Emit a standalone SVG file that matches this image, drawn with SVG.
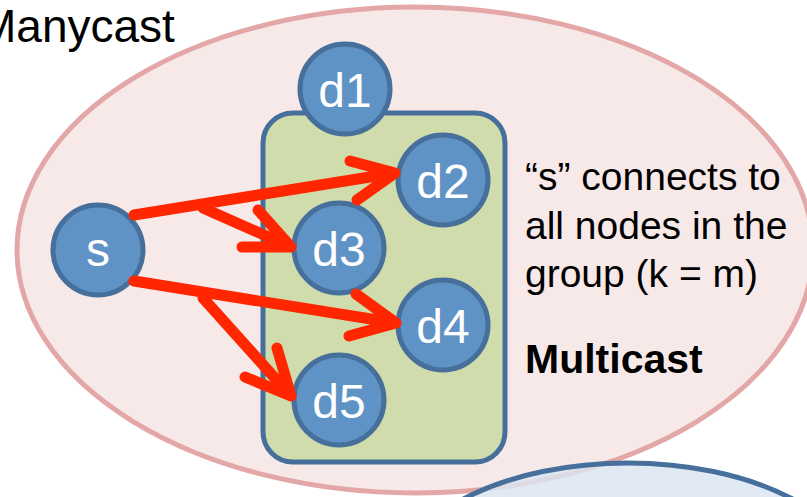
<svg xmlns="http://www.w3.org/2000/svg" width="807" height="497" viewBox="0 0 807 497">
<style>
.node circle{fill:#5f93c6;stroke:#46709b;stroke-width:5}
.node text{fill:#ffffff;font-family:"Liberation Sans",Arial,sans-serif;font-size:48px;text-anchor:middle}
.arrow{fill:none;stroke:#ff2600;stroke-width:11;stroke-linecap:round;stroke-linejoin:round}
.lbl{font-family:"Liberation Sans",Arial,sans-serif;font-size:39px;fill:#000}
</style>
<rect width="807" height="497" fill="#ffffff"/>
<g id="manycast">
<ellipse cx="415" cy="250" rx="398" ry="243" fill="#f8e9e9" stroke="#e2a7a6" stroke-width="5"/>
<text x="-22" y="42" class="lbl" style="font-size:46px">Manycast</text>
</g>
<g id="anycast-region">
<ellipse cx="628" cy="585" rx="232" ry="122" fill="#dbe5f1" fill-opacity="0.82" stroke="#46709b" stroke-width="5"/>
</g>
<g id="group">
<rect x="263" y="113" width="242" height="349" rx="30" ry="30" fill="#d0dcab" stroke="#46709b" stroke-width="5"/>
</g>
<g id="node-d1" class="node"><circle cx="345" cy="89" r="45"/><text x="345" y="107">d1</text></g>
<g id="node-d2" class="node"><circle cx="443" cy="180" r="45"/><text x="443" y="198">d2</text></g>
<g id="node-d3" class="node"><circle cx="339" cy="248" r="45"/><text x="339" y="266">d3</text></g>
<g id="node-d4" class="node"><circle cx="443" cy="325" r="45"/><text x="443" y="343">d4</text></g>
<g id="node-d5" class="node"><circle cx="339" cy="400" r="45"/><text x="339" y="418">d5</text></g>
<g id="node-s" class="node"><circle cx="98" cy="250" r="45"/><text x="98" y="266">s</text></g>
<g id="connectors">
<path class="arrow" d="M134 215 L395 173 M350 161 L395 173 L357 200"/>
<path class="arrow" d="M203 208 L291 247 M258 210 L291 247 L242 247"/>
<path class="arrow" d="M134 281 L396 323 M356 294 L396 323 L349 336"/>
<path class="arrow" d="M203 298 L291 396 M277 348 L291 396 L245 377"/>
</g>
<g id="caption">
<text class="lbl" x="525" y="190">“s” connects to</text>
<text class="lbl" x="525" y="239">all nodes in the</text>
<text class="lbl" x="525" y="287">group (k = m)</text>
<text class="lbl" x="525" y="373" style="font-weight:bold;font-size:41px">Multicast</text>
</g>
</svg>
